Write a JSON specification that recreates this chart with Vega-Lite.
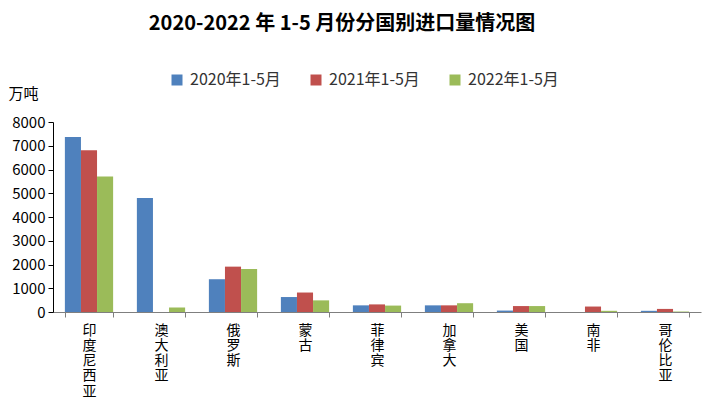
{
  "$schema": "https://vega.github.io/schema/vega-lite/v6.json",
  "autosize": "none",
  "width": 648,
  "height": 190,
  "padding": {"left": 53, "top": 122, "right": 17, "bottom": 98},
  "background": "white",
  "title": {
    "text": "2020-2022 年 1-5 月份分国别进口量情况图",
    "font": "Noto Sans CJK SC",
    "fontSize": 20,
    "fontWeight": "bold",
    "color": "#000000",
    "anchor": "middle",
    "frame": "group",
    "dx": -35,
    "dy": -34
  },
  "data": {
    "values": [
      {"country": "印度尼西亚", "period": "2020年1-5月", "value": 7370},
      {"country": "印度尼西亚", "period": "2021年1-5月", "value": 6810},
      {"country": "印度尼西亚", "period": "2022年1-5月", "value": 5710},
      {"country": "澳大利亚", "period": "2020年1-5月", "value": 4800},
      {"country": "澳大利亚", "period": "2021年1-5月", "value": 0},
      {"country": "澳大利亚", "period": "2022年1-5月", "value": 190},
      {"country": "俄罗斯", "period": "2020年1-5月", "value": 1380},
      {"country": "俄罗斯", "period": "2021年1-5月", "value": 1910},
      {"country": "俄罗斯", "period": "2022年1-5月", "value": 1810},
      {"country": "蒙古", "period": "2020年1-5月", "value": 630},
      {"country": "蒙古", "period": "2021年1-5月", "value": 820},
      {"country": "蒙古", "period": "2022年1-5月", "value": 490},
      {"country": "菲律宾", "period": "2020年1-5月", "value": 280},
      {"country": "菲律宾", "period": "2021年1-5月", "value": 320},
      {"country": "菲律宾", "period": "2022年1-5月", "value": 270},
      {"country": "加拿大", "period": "2020年1-5月", "value": 280},
      {"country": "加拿大", "period": "2021年1-5月", "value": 280},
      {"country": "加拿大", "period": "2022年1-5月", "value": 370},
      {"country": "美国", "period": "2020年1-5月", "value": 60},
      {"country": "美国", "period": "2021年1-5月", "value": 250},
      {"country": "美国", "period": "2022年1-5月", "value": 250},
      {"country": "南非", "period": "2020年1-5月", "value": 0},
      {"country": "南非", "period": "2021年1-5月", "value": 230},
      {"country": "南非", "period": "2022年1-5月", "value": 50},
      {"country": "哥伦比亚", "period": "2020年1-5月", "value": 50},
      {"country": "哥伦比亚", "period": "2021年1-5月", "value": 130},
      {"country": "哥伦比亚", "period": "2022年1-5月", "value": 20}
    ]
  },
  "mark": {"type": "bar"},
  "encoding": {
    "x": {
      "field": "country",
      "type": "nominal",
      "sort": null,
      "scale": {"paddingInner": 0.33, "paddingOuter": 0.165},
      "axis": {
        "title": null,
        "labelAngle": 0,
        "labelExpr": "split(datum.label, '')",
        "labelLineHeight": 15.3,
        "labelFont": "Noto Sans CJK SC",
        "labelFontSize": 14,
        "labelColor": "#000000",
        "labelPadding": 6,
        "tickBand": "extent",
        "tickSize": 5,
        "tickColor": "#7f7f7f",
        "domainColor": "#7f7f7f"
      }
    },
    "xOffset": {"field": "period", "type": "nominal", "scale": {"paddingInner": 0}},
    "y": {
      "field": "value",
      "type": "quantitative",
      "scale": {"domain": [0, 8000], "nice": false},
      "axis": {
        "values": [0, 1000, 2000, 3000, 4000, 5000, 6000, 7000, 8000],
        "format": "d",
        "grid": false,
        "title": "万吨",
        "titleAngle": 0,
        "titleAlign": "left",
        "titleBaseline": "middle",
        "titleX": -45,
        "titleY": -29,
        "titleFont": "Noto Sans CJK SC",
        "titleFontSize": 15,
        "titleFontWeight": "normal",
        "titleColor": "#000000",
        "labelFont": "Noto Sans CJK SC",
        "labelFontSize": 15,
        "labelColor": "#000000",
        "labelPadding": 3,
        "tickSize": 5,
        "tickColor": "#000000",
        "domainColor": "#000000"
      }
    },
    "color": {
      "field": "period",
      "type": "nominal",
      "scale": {"range": ["#4f81bd", "#c0504d", "#9bbb59"]},
      "legend": {
        "title": null,
        "orient": "none",
        "direction": "horizontal",
        "legendX": 116,
        "legendY": -50,
        "symbolType": "square",
        "symbolSize": 121,
        "symbolStrokeWidth": 0,
        "labelFont": "Noto Sans CJK SC",
        "labelFontSize": 16,
        "labelColor": "#333333",
        "labelOffset": 5,
        "columnPadding": 27
      }
    }
  },
  "config": {
    "view": {"stroke": null},
    "axis": {"domainWidth": 1, "tickWidth": 1}
  }
}
